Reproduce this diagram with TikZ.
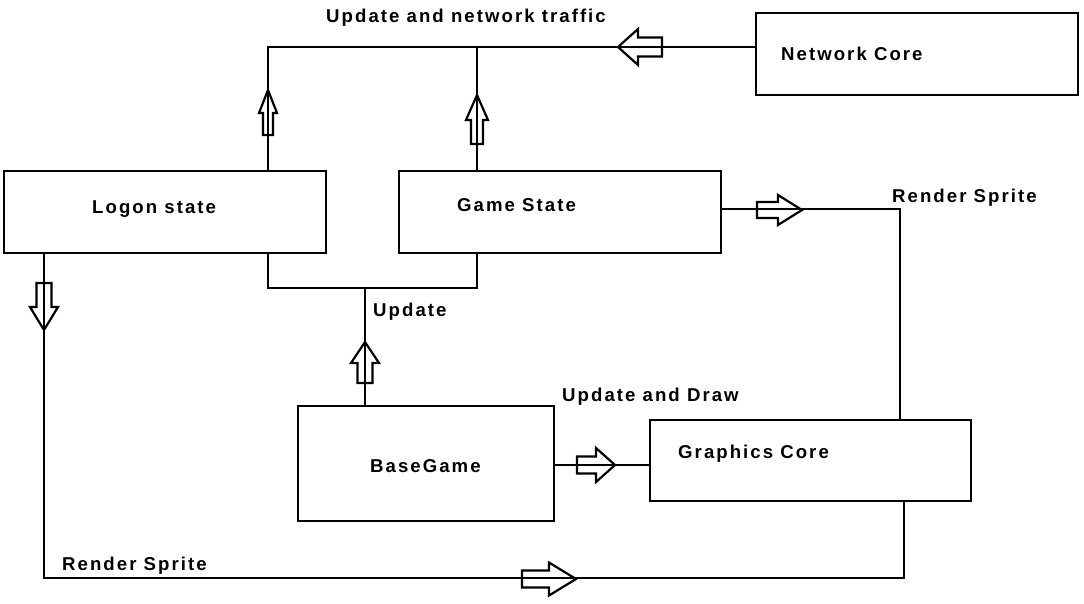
\documentclass[tikz,border=0pt]{standalone}
\usepackage{fontspec}
\setmainfont{Liberation Sans}[LetterSpace=11]
\usetikzlibrary{calc, positioning}

\tikzset{
    box/.style={draw, line width=2.6pt, inner sep=0pt},
    lbl/.style={font=\bfseries\fontsize{18.6}{22}\selectfont, inner sep=0pt, anchor=base west},
    link/.style={line width=2.6pt},
    pics/blockarrow/.style n args={4}{code={
        \draw[line width=2.2pt, fill=none] (0,0) -- (-#2,#3) -- (-#2,#4) -- (-#1,#4) -- (-#1,-#4) -- (-#2,-#4) -- (-#2,-#3) -- cycle;
    }},
}

\begin{document}
\begin{tikzpicture}[x=1pt, y=-1pt]
    \useasboundingbox (0,0) rectangle (1084,603);

    % boxes
    \node[box, minimum width=322pt, minimum height=82pt] (net) at (917,54) {};
    \node[box, minimum width=322pt, minimum height=82pt] (logon) at (165,212) {};
    \node[box, minimum width=322pt, minimum height=82pt] (game) at (560,212) {};
    \node[box, minimum width=256pt, minimum height=115pt] (base) at (426,463.5) {};
    \node[box, minimum width=321pt, minimum height=81pt] (gfx) at (810.5,460.5) {};

    \node[lbl] (netText) at (781,60) {Network Core};
    \node[lbl] (logonText) at (92,213.5) {Logon state};
    \node[lbl] (gameText) at (457,211.5) {Game State};
    \node[lbl] (baseText) at (370,472) {BaseGame};
    \node[lbl] (gfxText) at (678,458) {Graphics Core};

    % corners of the connectors
    \coordinate (topL) at (268,47);
    \coordinate (topM) at (477,47);
    \coordinate (midL) at (268,288);
    \coordinate (midR) at (477,288);
    \coordinate (upd) at (365,288);
    \coordinate (botL) at (44,578);
    \coordinate (botR) at (904,578);
    \coordinate (rsR) at (900,209);
    \coordinate (bgR) at (600,465);

    \draw[link] (topL -| net.west) -- (topL) -- (topL |- logon.north);
    \draw[link] (topM) -- (topM |- game.north);
    \draw[link] (midL |- logon.south) -- (midL) -- (midR) -- (midR |- game.south);
    \draw[link] (upd) -- (upd |- base.north);
    \draw[link] (botL |- logon.south) -- (botL) -- (botR) -- (botR |- gfx.south);
    \draw[link] (rsR -| game.east) -- (rsR) -- (rsR |- gfx.north);
    \draw[link] (bgR -| base.east) -- (bgR -| gfx.west);

    % block arrows
    \pic[rotate=180] at (618,47) {blockarrow={44}{20}{18}{9.5}};
    \pic[rotate=90] at (268,90) {blockarrow={45}{23}{9}{5}};
    \pic[rotate=90] at (477,95) {blockarrow={49}{25}{11}{6}};
    \pic[rotate=90] at (365,342) {blockarrow={41}{21}{14}{7.5}};
    \pic[rotate=-90] at (44,330) {blockarrow={47}{23}{14}{7.5}};
    \pic at (802,210) {blockarrow={45}{24}{15}{8}};
    \pic at (615,465) {blockarrow={38}{19}{17}{8.5}};
    \pic at (576,579) {blockarrow={54}{27}{16.5}{8.5}};

    % labels
    \node[lbl] (netLbl) at (326,22) {Update and network traffic};
    \node[lbl] (updLbl) at (373,316) {Update};
    \node[lbl] (drawLbl) at (562,401) {Update and Draw};
    \node[lbl] (rsLbl) at (892,202) {Render Sprite};
    \node[lbl] (rsBotLbl) at (62,570) {Render Sprite};
\end{tikzpicture}
\end{document}
